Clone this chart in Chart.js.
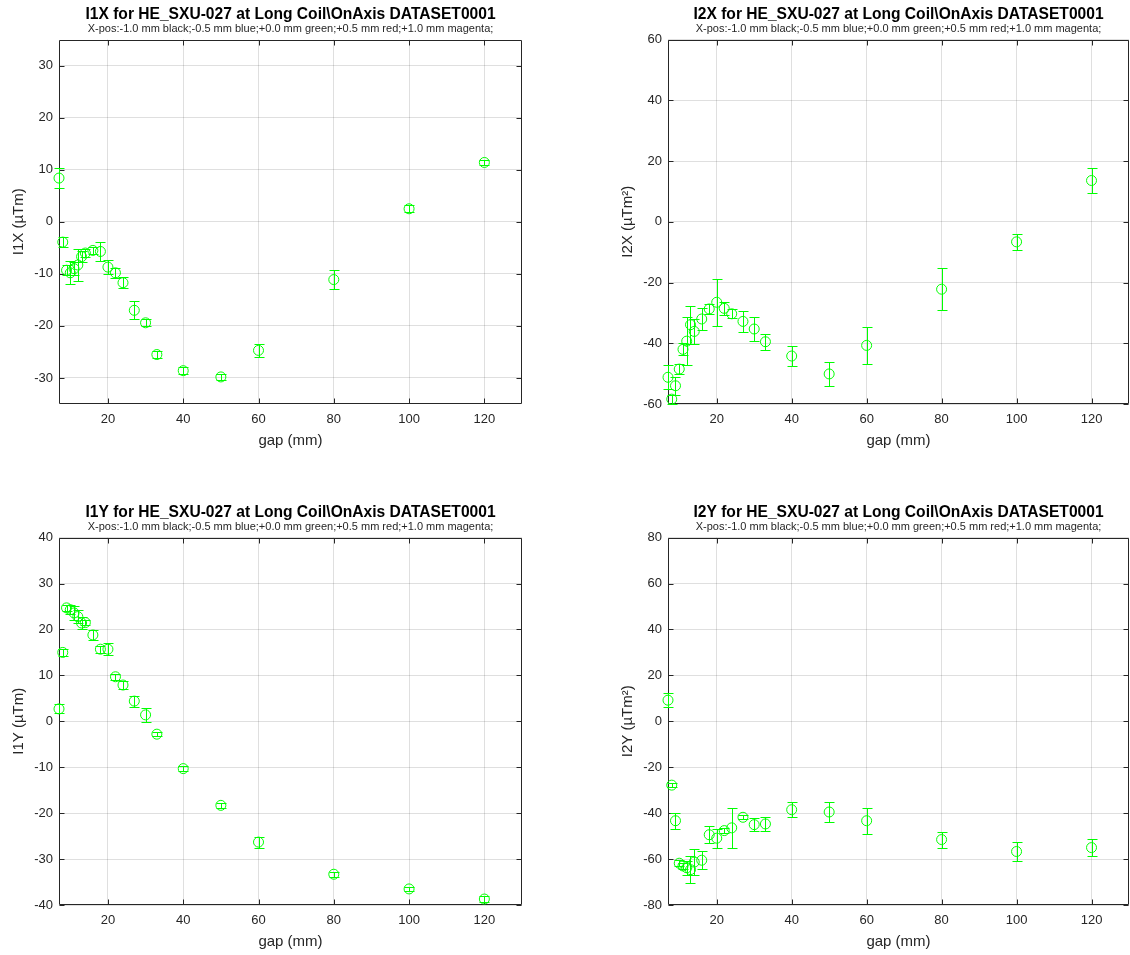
<!DOCTYPE html>
<html lang="en">
<head>
	<meta charset="UTF-8">
	<title>HE_SXU-027 Long Coil OnAxis</title>
	<script src="https://cdn.jsdelivr.net/npm/chart.js"></script>
	<style>
		body { margin: 0; background: #fff; overflow: hidden; }
		.panel { position: absolute; }
	</style>
</head>
<body>

	<div class="panel" style="left:0px;top:0px"><canvas id="i1x" width="565" height="454"></canvas></div>
	<div class="panel" style="left:609px;top:0px"><canvas id="i2x" width="521" height="454"></canvas></div>
	<div class="panel" style="left:0px;top:498px"><canvas id="i1y" width="565" height="457"></canvas></div>
	<div class="panel" style="left:609px;top:498px"><canvas id="i2y" width="521" height="457"></canvas></div>

	<script>
		// gap values (mm), same for all four plots
		const gaps = [7, 8, 9, 10, 11, 12, 13, 14, 16, 18, 20, 22, 24, 27, 30, 33, 40, 50, 60, 80, 100, 120];

		const i1x = [8.4, -3.9, -9.3, -9.8, -9.0, -8.3, -6.7, -6.0, -5.5, -5.7, -8.7, -9.8, -11.7, -17.0, -19.4, -25.5, -28.6, -29.8, -24.7, -11.1, 2.5, 11.4];
		const i1xErr = [1.9, 0.9, 1.0, 2.2, 1.2, 3.0, 1.0, 0.8, 0.6, 1.8, 1.4, 1.0, 1.1, 1.7, 0.7, 0.7, 0.7, 0.6, 1.2, 1.8, 0.7, 0.5];

		const i2x = [-51.2, -58.4, -54.0, -48.5, -42.0, -39.3, -33.9, -36.1, -32.0, -28.7, -26.5, -28.5, -30.3, -32.8, -35.3, -39.5, -44.2, -50.1, -40.7, -22.2, -6.6, 13.6];
		const i2xErr = [4.0, 1.5, 3.0, 1.7, 2.0, 8.0, 6.2, 4.0, 3.7, 1.5, 7.8, 2.2, 1.5, 3.5, 4.0, 2.7, 3.4, 4.0, 6.0, 7.0, 2.6, 4.2];

		const i1y = [2.7, 15.0, 24.7, 24.3, 23.6, 22.8, 21.4, 21.5, 18.8, 15.7, 15.7, 9.7, 7.9, 4.4, 1.4, -2.8, -10.3, -18.3, -26.3, -33.3, -36.5, -38.7];
		const i1yErr = [1.0, 0.7, 0.7, 1.0, 1.5, 1.5, 1.3, 0.5, 1.0, 0.8, 1.3, 0.7, 0.8, 1.2, 1.6, 0.5, 0.5, 0.5, 1.2, 0.5, 0.5, 0.7];

		const i2y = [9.2, -27.8, -43.3, -61.8, -63.0, -63.8, -64.6, -61.3, -60.5, -49.4, -50.9, -47.6, -46.4, -41.8, -45.0, -44.7, -38.5, -39.5, -43.3, -51.5, -56.7, -55.0];
		const i2yErr = [3.0, 1.0, 3.5, 1.3, 1.5, 3.0, 6.0, 5.6, 3.9, 3.6, 4.2, 1.0, 8.7, 0.8, 2.8, 3.2, 3.2, 4.5, 5.6, 3.5, 4.3, 3.7];

		// axis ranges and ticks
		const xRange = [7, 130];
		const xTicks = [20, 40, 60, 80, 100, 120];
		const i1xTicks = [-30, -20, -10, 0, 10, 20, 30];
		const i2xTicks = [-60, -40, -20, 0, 20, 40, 60];
		const i1yTicks = [-40, -30, -20, -10, 0, 10, 20, 30, 40];
		const i2yTicks = [-80, -60, -40, -20, 0, 20, 40, 60, 80];

		const subtitleText = "X-pos:-1.0 mm black;-0.5 mm blue;+0.0 mm green;+0.5 mm red;+1.0 mm magenta;";
		const FONT = "'Liberation Sans', Arial, Helvetica, sans-serif";
		const AXIS_COLOR = "#262626";
		const GREEN = "rgb(0, 255, 0)";

		// vertical error bars with caps, drawn through the chart scales
		const errorBars = {
			id: "errorBars",
			afterDatasetsDraw(chart) {
				const { ctx, scales: { x, y } } = chart;
				const cap = 5;
				chart.data.datasets.forEach(ds => {
					ctx.save();
					ctx.strokeStyle = ds.borderColor;
					ctx.lineWidth = 1;
					ds.data.forEach((p, i) => {
						const e = ds.errors[i];
						const px = Math.round(x.getPixelForValue(p.x)) + 0.5;
						const top = Math.round(y.getPixelForValue(p.y + e)) + 0.5;
						const bot = Math.round(y.getPixelForValue(p.y - e)) + 0.5;
						ctx.beginPath();
						ctx.moveTo(px, top); ctx.lineTo(px, bot);
						ctx.moveTo(px - cap, top); ctx.lineTo(px + cap, top);
						ctx.moveTo(px - cap, bot); ctx.lineTo(px + cap, bot);
						ctx.stroke();
					});
					ctx.restore();
				});
			}
		};

		// matlab style box with inward ticks on all four sides
		const boxFrame = {
			id: "boxFrame",
			beforeDatasetsDraw(chart) {
				const { ctx, chartArea: a, scales: { x, y } } = chart;
				const tl = 5;
				const L = Math.round(a.left) + 0.5, R = Math.round(a.right) - 0.5;
				const T = Math.round(a.top) + 0.5, B = Math.round(a.bottom) - 0.5;
				ctx.save();
				ctx.strokeStyle = AXIS_COLOR;
				ctx.lineWidth = 1;
				ctx.beginPath();
				ctx.rect(L, T, R - L, B - T);
				x.ticks.forEach(t => {
					const px = Math.round(x.getPixelForValue(t.value)) + 0.5;
					ctx.moveTo(px, B); ctx.lineTo(px, B - tl);
					ctx.moveTo(px, T); ctx.lineTo(px, T + tl);
				});
				y.ticks.forEach(t => {
					const py = Math.round(y.getPixelForValue(t.value)) + 0.5;
					ctx.moveTo(L, py); ctx.lineTo(L + tl, py);
					ctx.moveTo(R, py); ctx.lineTo(R - tl, py);
				});
				ctx.stroke();
				ctx.restore();
			}
		};

		function MakePlot(canvasId, name, yLabel, values, errors, yMin, yMax, yTicks, rightPad) {
			const points = gaps.map((g, i) => ({ x: g, y: values[i] }));
			return new Chart(document.getElementById(canvasId), {
				type: "scatter",
				data: {
					datasets: [{
						data: points,
						errors: errors,
						borderColor: GREEN,
						backgroundColor: "rgba(0,0,0,0)",
						borderWidth: 1,
						pointRadius: 5,
						pointHoverRadius: 5,
						clip: false
					}]
				},
				options: {
					responsive: false,
					animation: false,
					layout: { autoPadding: false, padding: { left: 0, right: rightPad, top: 0, bottom: 0 } },
					plugins: {
						legend: { display: false },
						tooltip: { enabled: false },
						title: {
							display: true,
							text: name + " for HE_SXU-027 at Long Coil\\OnAxis DATASET0001",
							color: "#000",
							fullSize: false,
							font: { family: FONT, size: 15.6, weight: "bold", lineHeight: 1 },
							padding: { top: 6.5, bottom: 0 }
						},
						subtitle: {
							display: true,
							text: subtitleText,
							color: AXIS_COLOR,
							fullSize: false,
							font: { family: FONT, size: 11, lineHeight: 1.2 },
							padding: { top: 0, bottom: 4.3 }
						}
					},
					scales: {
						x: {
							type: "linear",
							min: xRange[0],
							max: xRange[1],
							afterBuildTicks: s => { s.ticks = xTicks.map(v => ({ value: v })); },
							afterFit: s => { s.height = 50; s.paddingLeft = 0; s.paddingRight = 0; },
							grid: { color: "rgba(38,38,38,0.15)", drawTicks: false },
							border: { display: false },
							ticks: { color: AXIS_COLOR, font: { family: FONT, size: 13 }, padding: 8, maxRotation: 0 },
							title: { display: true, text: "gap (mm)", color: AXIS_COLOR, font: { family: FONT, size: 15 }, padding: { top: 0, bottom: 4 } }
						},
						y: {
							type: "linear",
							min: yMin,
							max: yMax,
							afterBuildTicks: s => { s.ticks = yTicks.map(v => ({ value: v })); },
							afterFit: s => { s.width = 59; },
							grid: { color: "rgba(38,38,38,0.15)", drawTicks: false },
							border: { display: false },
							ticks: { color: AXIS_COLOR, font: { family: FONT, size: 13 }, padding: 6 },
							title: { display: true, text: yLabel, color: AXIS_COLOR, font: { family: FONT, size: 15 }, padding: { top: 10, bottom: 0 } }
						}
					}
				},
				plugins: [boxFrame, errorBars]
			});
		}

		MakePlot("i1x", "I1X", "I1X (µTm)", i1x, i1xErr, -35, 35, i1xTicks, 43);
		MakePlot("i2x", "I2X", "I2X (µTm²)", i2x, i2xErr, -60, 60, i2xTicks, 1);
		MakePlot("i1y", "I1Y", "I1Y (µTm)", i1y, i1yErr, -40, 40, i1yTicks, 43);
		MakePlot("i2y", "I2Y", "I2Y (µTm²)", i2y, i2yErr, -80, 80, i2yTicks, 1);
	</script>
</body>
</html>
